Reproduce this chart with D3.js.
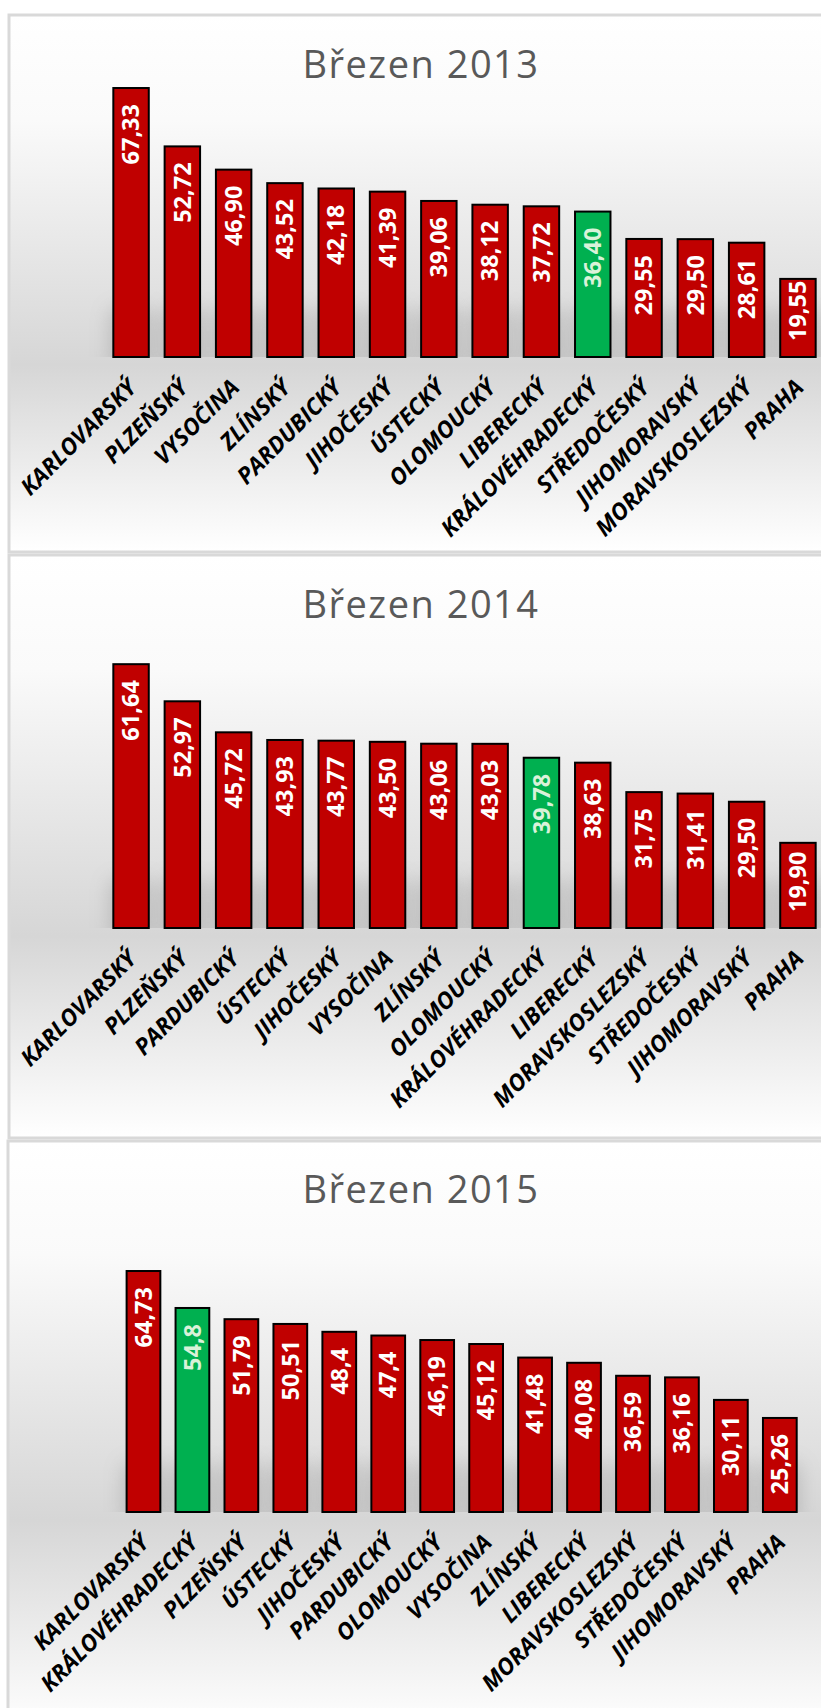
<!DOCTYPE html>
<html>
<head>
<meta charset="utf-8">
<script src="https://cdn.jsdelivr.net/npm/d3@7"></script>
<style>
  body { margin: 0; background: #fff; }
  svg { display: block; }
</style>
</head>
<body>
<svg id="chart"></svg>
<script>
// Březen 2013 - regions sorted by value, labels as printed
const regions2013 = ['KARLOVARSKÝ', 'PLZEŇSKÝ', 'VYSOČINA', 'ZLÍNSKÝ', 'PARDUBICKÝ', 'JIHOČESKÝ', 'ÚSTECKÝ',
    'OLOMOUCKÝ', 'LIBERECKÝ', 'KRÁLOVÉHRADECKÝ', 'STŘEDOČESKÝ', 'JIHOMORAVSKÝ', 'MORAVSKOSLEZSKÝ', 'PRAHA'];
const values2013 = ['67,33', '52,72', '46,90', '43,52', '42,18', '41,39', '39,06',
    '38,12', '37,72', '36,40', '29,55', '29,50', '28,61', '19,55'];

// Březen 2014
const regions2014 = ['KARLOVARSKÝ', 'PLZEŇSKÝ', 'PARDUBICKÝ', 'ÚSTECKÝ', 'JIHOČESKÝ', 'VYSOČINA', 'ZLÍNSKÝ',
    'OLOMOUCKÝ', 'KRÁLOVÉHRADECKÝ', 'LIBERECKÝ', 'MORAVSKOSLEZSKÝ', 'STŘEDOČESKÝ', 'JIHOMORAVSKÝ', 'PRAHA'];
const values2014 = ['61,64', '52,97', '45,72', '43,93', '43,77', '43,50', '43,06',
    '43,03', '39,78', '38,63', '31,75', '31,41', '29,50', '19,90'];

// Březen 2015
const regions2015 = ['KARLOVARSKÝ', 'KRÁLOVÉHRADECKÝ', 'PLZEŇSKÝ', 'ÚSTECKÝ', 'JIHOČESKÝ', 'PARDUBICKÝ', 'OLOMOUCKÝ',
    'VYSOČINA', 'ZLÍNSKÝ', 'LIBERECKÝ', 'MORAVSKOSLEZSKÝ', 'STŘEDOČESKÝ', 'JIHOMORAVSKÝ', 'PRAHA'];
const values2015 = ['64,73', '54,8', '51,79', '50,51', '48,4', '47,4', '46,19',
    '45,12', '41,48', '40,08', '36,59', '36,16', '30,11', '25,26'];

const titles = ['Březen 2013', 'Březen 2014', 'Březen 2015'];
const highlighted = 'KRÁLOVÉHRADECKÝ';

const width = 821;
const height = 1708;

// layout of the three stacked charts
const panels = [
    { left: 9, top: 15, bottom: 552, titleY: 78, base: 357, pxPerUnit: 3.995, x0: 105.4, x1: 823.6 },
    { left: 9, top: 555, bottom: 1138, titleY: 618, base: 928, pxPerUnit: 4.28, x0: 105.4, x1: 823.6 },
    { left: 8, top: 1141, bottom: 1730, titleY: 1203, base: 1512, pxPerUnit: 3.723, x0: 119, x1: 804.3 }
];
const series = [
    { names: regions2013, labels: values2013 },
    { names: regions2014, labels: values2014 },
    { names: regions2015, labels: values2015 }
];

const svg = d3.select('#chart')
    .attr('width', width)
    .attr('height', height);

const defs = svg.append('defs');

// soft shadow behind the bars
defs.append('filter')
    .attr('id', 'blur')
    .attr('x', '-50%').attr('y', '-50%')
    .attr('width', '200%').attr('height', '200%')
    .append('feGaussianBlur')
    .attr('stdDeviation', 10);

panels.forEach((p, i) => drawPanel(p, series[i], titles[i], i));

function drawPanel(p, s, title, i) {
    let data = s.names.map((name, j) => ({
        name: name,
        label: s.labels[j],
        value: parseFloat(s.labels[j].replace(',', '.'))
    }));

    // background: white -> grey near the floor -> white
    let grad = defs.append('linearGradient')
        .attr('id', 'bg' + i)
        .attr('x1', 0).attr('y1', 0).attr('x2', 0).attr('y2', 1);
    let floor = (p.base + 8 - p.top) / (p.bottom - p.top);
    grad.append('stop').attr('offset', 0).attr('stop-color', '#ffffff');
    grad.append('stop').attr('offset', floor * 0.3).attr('stop-color', '#fafafa');
    grad.append('stop').attr('offset', floor).attr('stop-color', '#d6d6d6');
    grad.append('stop').attr('offset', 1).attr('stop-color', '#ffffff');

    let g = svg.append('g');

    g.append('rect')
        .attr('x', p.left)
        .attr('y', p.top)
        .attr('width', 840 - p.left)
        .attr('height', p.bottom - p.top)
        .attr('fill', 'url(#bg' + i + ')')
        .attr('stroke', '#d9d9d9')
        .attr('stroke-width', 3);

    let x = d3.scaleBand()
        .domain(data.map(d => d.name))
        .range([p.x0, p.x1])
        .paddingInner(0.27)
        .paddingOuter(0.135);

    let y = d3.scaleLinear()
        .domain([0, 70])
        .range([p.base, p.base - 70 * p.pxPerUnit]);

    // title
    g.append('text')
        .attr('x', 421)
        .attr('y', p.titleY)
        .attr('text-anchor', 'middle')
        .attr('font-family', 'Open Sans, sans-serif')
        .attr('font-size', 38)
        .attr('letter-spacing', 1.5)
        .attr('fill', '#595959')
        .text(title);

    // shadows, clipped at the floor
    defs.append('clipPath')
        .attr('id', 'floor' + i)
        .append('rect')
        .attr('x', 0)
        .attr('y', p.top)
        .attr('width', width)
        .attr('height', p.base - p.top);

    g.append('g')
        .attr('clip-path', 'url(#floor' + i + ')')
        .selectAll('rect')
        .data(data)
        .enter()
        .append('rect')
        .attr('x', d => x(d.name) - 2)
        .attr('y', p.base - 48)
        .attr('width', x.bandwidth() + 4)
        .attr('height', 60)
        .attr('fill', '#7a7a7a')
        .attr('opacity', 0.33)
        .attr('filter', 'url(#blur)');

    // bars
    g.append('g')
        .selectAll('rect')
        .data(data)
        .enter()
        .append('rect')
        .attr('x', d => x(d.name) + 1)
        .attr('y', d => y(d.value))
        .attr('width', x.bandwidth() - 2)
        .attr('height', d => y(0) - y(d.value))
        .attr('fill', d => d.name === highlighted ? '#00b050' : '#c00000')
        .attr('stroke', '#000')
        .attr('stroke-width', 2);

    // value labels inside the bars
    let labels = g.append('g')
        .selectAll('text')
        .data(data)
        .enter()
        .append('text')
        .attr('text-anchor', 'end')
        .attr('dy', '0.35em')
        .attr('font-family', 'Open Sans, sans-serif')
        .attr('font-weight', 'bold')
        .attr('font-size', 23.5)
        .attr('fill', d => d.name === highlighted ? '#d9f2d9' : '#ffffff')
        .text(d => d.label);

    labels.attr('transform', function(d) {
        let len = this.getComputedTextLength();
        let cx = x(d.name) + x.bandwidth() / 2;
        let endY = Math.min(y(d.value) + 16, p.base - 16 - len);
        return 'translate(' + cx + ',' + endY + ') rotate(-90)';
    });

    // category axis
    let axis = g.append('g')
        .attr('transform', 'translate(0,' + p.base + ')')
        .call(d3.axisBottom(x).tickSize(0));

    axis.select('.domain').remove();
    axis.selectAll('text')
        .attr('x', 0)
        .attr('y', 0)
        .attr('dy', 0)
        .attr('text-anchor', 'end')
        .attr('transform', 'translate(7,32) rotate(-45)')
        .attr('font-family', 'Open Sans, sans-serif')
        .attr('font-weight', 'bold')
        .attr('font-style', 'italic')
        .attr('font-size', 23)
        .attr('fill', '#000');
}
</script>
</body>
</html>
